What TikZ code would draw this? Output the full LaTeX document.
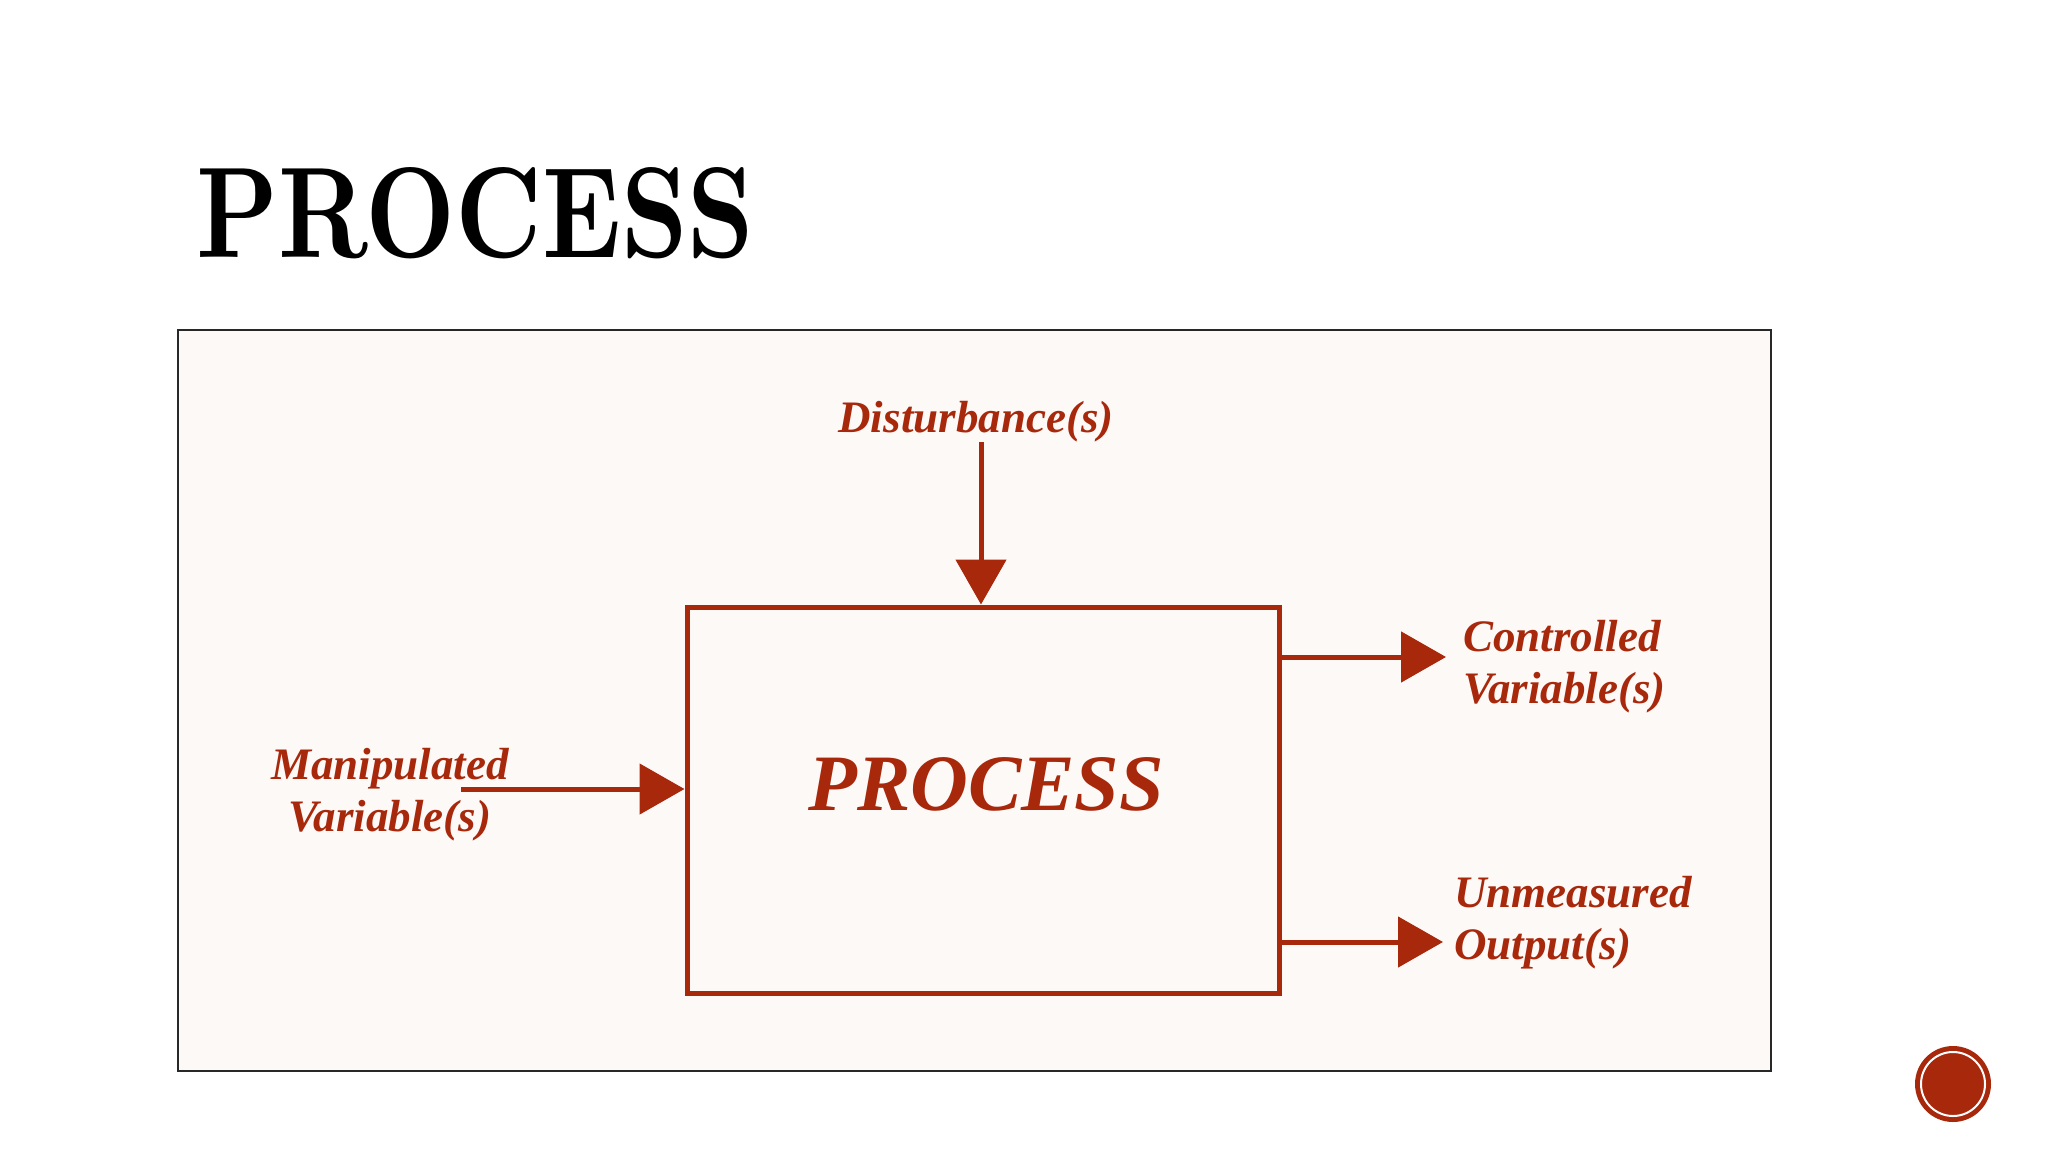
\documentclass[tikz,border=0pt]{standalone}
\usepackage{fontspec}
\usetikzlibrary{arrows.meta}
\newfontfamily\redfont{Liberation Serif}
\definecolor{procred}{RGB}{168,40,12}
\definecolor{framefill}{RGB}{252,249,247}
\definecolor{framedraw}{RGB}{40,40,40}
\tikzset{
  lbl/.style={text=procred, font=\redfont\bfseries\itshape\fontsize{45}{52}\selectfont, inner sep=0pt},
  flow/.style={draw=procred, line width=5pt, -{Triangle[length=45pt,width=50pt]}},
  procbox/.style={draw=procred, line width=5pt, minimum width=592pt, minimum height=386pt, inner sep=0pt}
}
\begin{document}
\begin{tikzpicture}[x=1pt,y=-1pt]
\useasboundingbox (0,0) rectangle (2048,1152);
\fill[white] (0,0) rectangle (2048,1152);
% title
\node[anchor=north west, inner sep=0pt] (title) at (196,167) {\resizebox{558pt}{90pt}{\bfseries PROCESS}};
% frame
\draw[framedraw, line width=1.5pt, fill=framefill] (178,330) rectangle (1771,1071);
% process box
\node[procbox] (proc) at (983,800) {};
\node[lbl, font=\redfont\bfseries\itshape\fontsize{80}{80}\selectfont] (ptext) at (986,784) {PROCESS};
% labels
\node[lbl] (dist) at (976,422) {Disturbance(s)};
\node[lbl, align=center] (manip) at (390,795) {Manipulated\\Variable(s)};
\node[lbl, align=left, anchor=west] (ctrl) at (1463,667) {Controlled\\Variable(s)};
\node[lbl, align=left, anchor=west] (unmeas) at (1454,923) {Unmeasured\\Output(s)};
% connectors
\coordinate (dstart) at (981,442);
\coordinate (mstart) at (461,789);
\draw[flow] (dstart) -- (dstart |- proc.north);
\draw[flow] (mstart) -- (mstart -| proc.west);
\coordinate (cstart) at (1279,657);
\coordinate (cend) at (1446,657);
\coordinate (ustart) at (1279,942);
\coordinate (uend) at (1443,942);
\draw[flow] (cstart) -- (cend);
\draw[flow] (ustart) -- (uend);
% corner button
\node[circle, fill=procred, minimum size=76pt, inner sep=0pt] (btn) at (1953,1084) {};
\draw[white, line width=2pt] (btn.center) circle[radius=32pt];
\end{tikzpicture}
\end{document}
